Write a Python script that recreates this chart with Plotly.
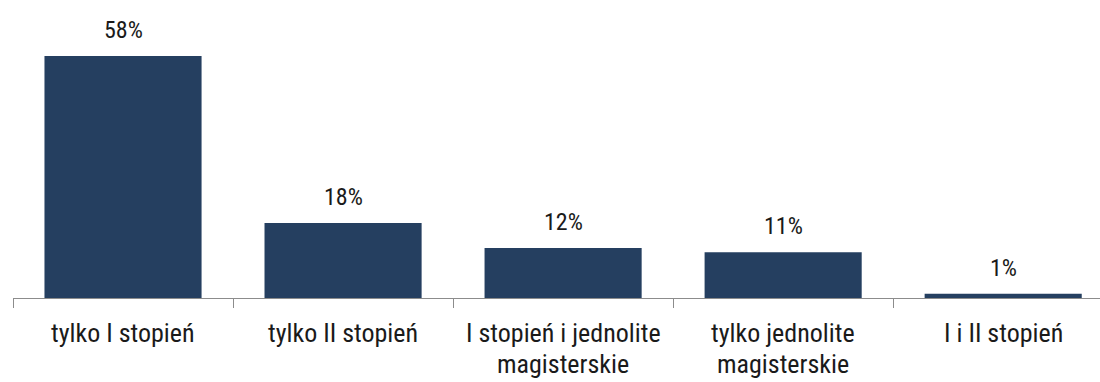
import plotly.graph_objects as go

categories = ["tylko I stopień", "tylko II stopień", "I stopień i jednolite<br>magisterskie",
              "tylko jednolite<br>magisterskie", "I i II stopień"]
values = [58, 18, 12, 11, 1]
labels = [f"{v}%" for v in values]

BAR = "#253F60"
FONT = "Roboto Condensed, Liberation Sans, sans-serif"
TEXT = "#1a1a1a"
AXIS = "#8c8c8c"

x = list(range(len(categories)))

fig = go.Figure()
fig.add_trace(go.Bar(
    x=x, y=values,
    marker=dict(color=BAR, line=dict(width=0)),
    width=0.714,
    hoverinfo="skip",
))

# value labels above the bars
for i, (v, t) in enumerate(zip(values, labels)):
    fig.add_annotation(x=i, y=v, text=t, showarrow=False, yanchor="bottom",
                       yshift=10, font=dict(family=FONT, size=24, color=TEXT))

# category names under the axis, one annotation per line for tighter spacing
for i, name in enumerate(categories):
    for j, line in enumerate(name.split("<br>")):
        fig.add_annotation(x=i, y=0, yref="paper", text=line, showarrow=False,
                           yanchor="top", yshift=-19 - 31 * j, borderpad=0,
                           font=dict(family=FONT, size=26, color=TEXT))

fig.update_layout(
    width=1100, height=382,
    margin=dict(l=13, r=0, t=10, b=84),
    plot_bgcolor="white", paper_bgcolor="white",
    showlegend=False,
    xaxis=dict(
        tickmode="array", tickvals=[i - 0.5 for i in range(len(categories) + 1)],
        showticklabels=False,
        range=[-0.5, 4.44],
        showline=True, linecolor=AXIS, linewidth=1,
        ticks="outside", ticklen=9, tickcolor=AXIS, tickwidth=1,
        showgrid=False, zeroline=False,
    ),
    yaxis=dict(range=[0, 69.06], visible=False, showgrid=False, zeroline=False),
)

fig.write_html("out.html")
